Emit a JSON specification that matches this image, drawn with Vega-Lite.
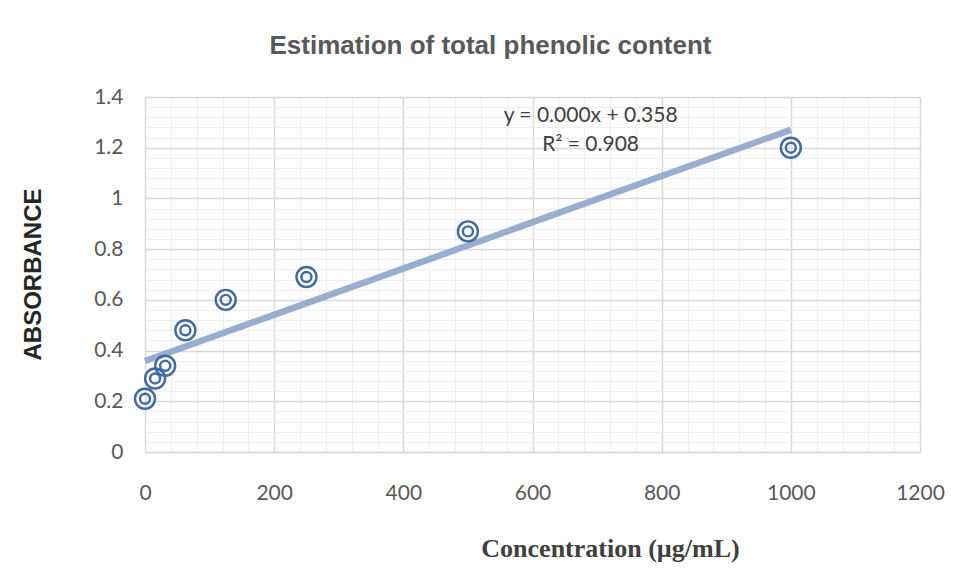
{
  "$schema": "https://vega.github.io/schema/vega-lite/v6.json",
  "width": 775,
  "height": 355,
  "autosize": {"type": "none"},
  "padding": {"left": 145, "top": 97, "right": 40, "bottom": 134},
  "background": "white",
  "title": {
    "text": "Estimation of total phenolic content",
    "font": "Liberation Sans",
    "fontSize": 26,
    "fontWeight": "bold",
    "color": "#595959",
    "anchor": "middle",
    "frame": "group",
    "dx": -42,
    "offset": 27
  },
  "config": {
    "view": {"stroke": null},
    "axis": {
      "labelFont": "Lato",
      "labelFontSize": 21,
      "labelColor": "#595959",
      "labelOverlap": false,
      "labelFlush": false,
      "ticks": false,
      "domain": false
    }
  },
  "datasets": {
    "points": [
      {"conc": 0, "abs": 0.21},
      {"conc": 15.625, "abs": 0.29},
      {"conc": 31.25, "abs": 0.34},
      {"conc": 62.5, "abs": 0.48},
      {"conc": 125, "abs": 0.60},
      {"conc": 250, "abs": 0.69},
      {"conc": 500, "abs": 0.87},
      {"conc": 1000, "abs": 1.20}
    ],
    "notes": [
      {"conc": 690, "abs": 1.325, "label": "y = 0.000x + 0.358"},
      {"conc": 690, "abs": 1.21, "label": "R² = 0.908"}
    ]
  },
  "layer": [
    {
      "data": {"name": "points"},
      "mark": {"type": "point", "opacity": 0},
      "encoding": {
        "x": {
          "field": "conc", "type": "quantitative",
          "scale": {"domain": [0, 1200], "nice": false, "zero": false},
          "axis": {
            "title": "Concentration (µg/mL)",
            "titleFont": "Liberation Serif",
            "titleFontSize": 26,
            "titleFontWeight": "bold",
            "titleColor": "#404040",
            "titleX": 465,
            "titleY": 96,
            "titleAlign": "center",
            "titleBaseline": "middle",
            "labelPadding": 30,
            "tickCount": 200,
            "values": [0,40,80,120,160,200,240,280,320,360,400,440,480,520,560,600,640,680,720,760,800,840,880,920,960,1000,1040,1080,1120,1160,1200],
            "labelExpr": "datum.value % 200 === 0 ? datum.label : ''",
            "format": "d",
            "grid": true,
            "gridColor": {"condition": {"test": "datum.value % 200 === 0", "value": "#d9d9d9"}, "value": "#efefef"},
            "gridWidth": {"condition": {"test": "datum.value % 200 === 0", "value": 1.5}, "value": 1.2},
            "domain": true,
            "domainColor": "#d9d9d9",
            "domainWidth": 1.5
          }
        },
        "y": {
          "field": "abs", "type": "quantitative",
          "scale": {"domain": [0, 1.4], "nice": false},
          "axis": {
            "title": "ABSORBANCE",
            "titleFont": "Liberation Sans",
            "titleFontSize": 24,
            "titleFontWeight": "bold",
            "titleColor": "#262626",
            "titleX": -112,
            "titleY": 177,
            "titleAngle": -90,
            "titleAlign": "center",
            "titleBaseline": "middle",
            "labelPadding": 22,
            "tickCount": 200,
            "values": [0,0.04,0.08,0.12,0.16,0.2,0.24,0.28,0.32,0.36,0.4,0.44,0.48,0.52,0.56,0.6,0.64,0.68,0.72,0.76,0.8,0.84,0.88,0.92,0.96,1,1.04,1.08,1.12,1.16,1.2,1.24,1.28,1.32,1.36,1.4],
            "labelExpr": "abs(round(datum.value*5) - datum.value*5) < 1e-6 ? format(datum.value, '~g') : ''",
            "grid": true,
            "gridColor": {"condition": {"test": "abs(round(datum.value*5) - datum.value*5) < 1e-6", "value": "#d9d9d9"}, "value": "#efefef"},
            "gridWidth": {"condition": {"test": "abs(round(datum.value*5) - datum.value*5) < 1e-6", "value": 1.5}, "value": 1.2}
          }
        }
      }
    },
    {
      "data": {"name": "points"},
      "transform": [{"regression": "abs", "on": "conc", "method": "linear", "extent": [0, 1000]}],
      "mark": {"type": "line", "color": "#93AACB", "strokeWidth": 6.5, "opacity": 0.95},
      "encoding": {
        "x": {"field": "conc", "type": "quantitative"},
        "y": {"field": "abs", "type": "quantitative"}
      }
    },
    {
      "data": {"name": "points"},
      "mark": {"type": "point", "shape": "circle", "filled": false, "color": "#4169A3", "strokeWidth": 2.4, "size": 400, "opacity": 1},
      "encoding": {
        "x": {"field": "conc", "type": "quantitative"},
        "y": {"field": "abs", "type": "quantitative"}
      }
    },
    {
      "data": {"name": "points"},
      "mark": {"type": "point", "shape": "circle", "filled": false, "color": "#4169A3", "strokeWidth": 2.4, "size": 100, "opacity": 1},
      "encoding": {
        "x": {"field": "conc", "type": "quantitative"},
        "y": {"field": "abs", "type": "quantitative"}
      }
    },
    {
      "data": {"name": "notes"},
      "mark": {"type": "text", "font": "Lato", "fontSize": 21, "color": "#404040", "align": "center", "baseline": "middle"},
      "encoding": {
        "x": {"field": "conc", "type": "quantitative"},
        "y": {"field": "abs", "type": "quantitative"},
        "text": {"field": "label"}
      }
    }
  ]
}
